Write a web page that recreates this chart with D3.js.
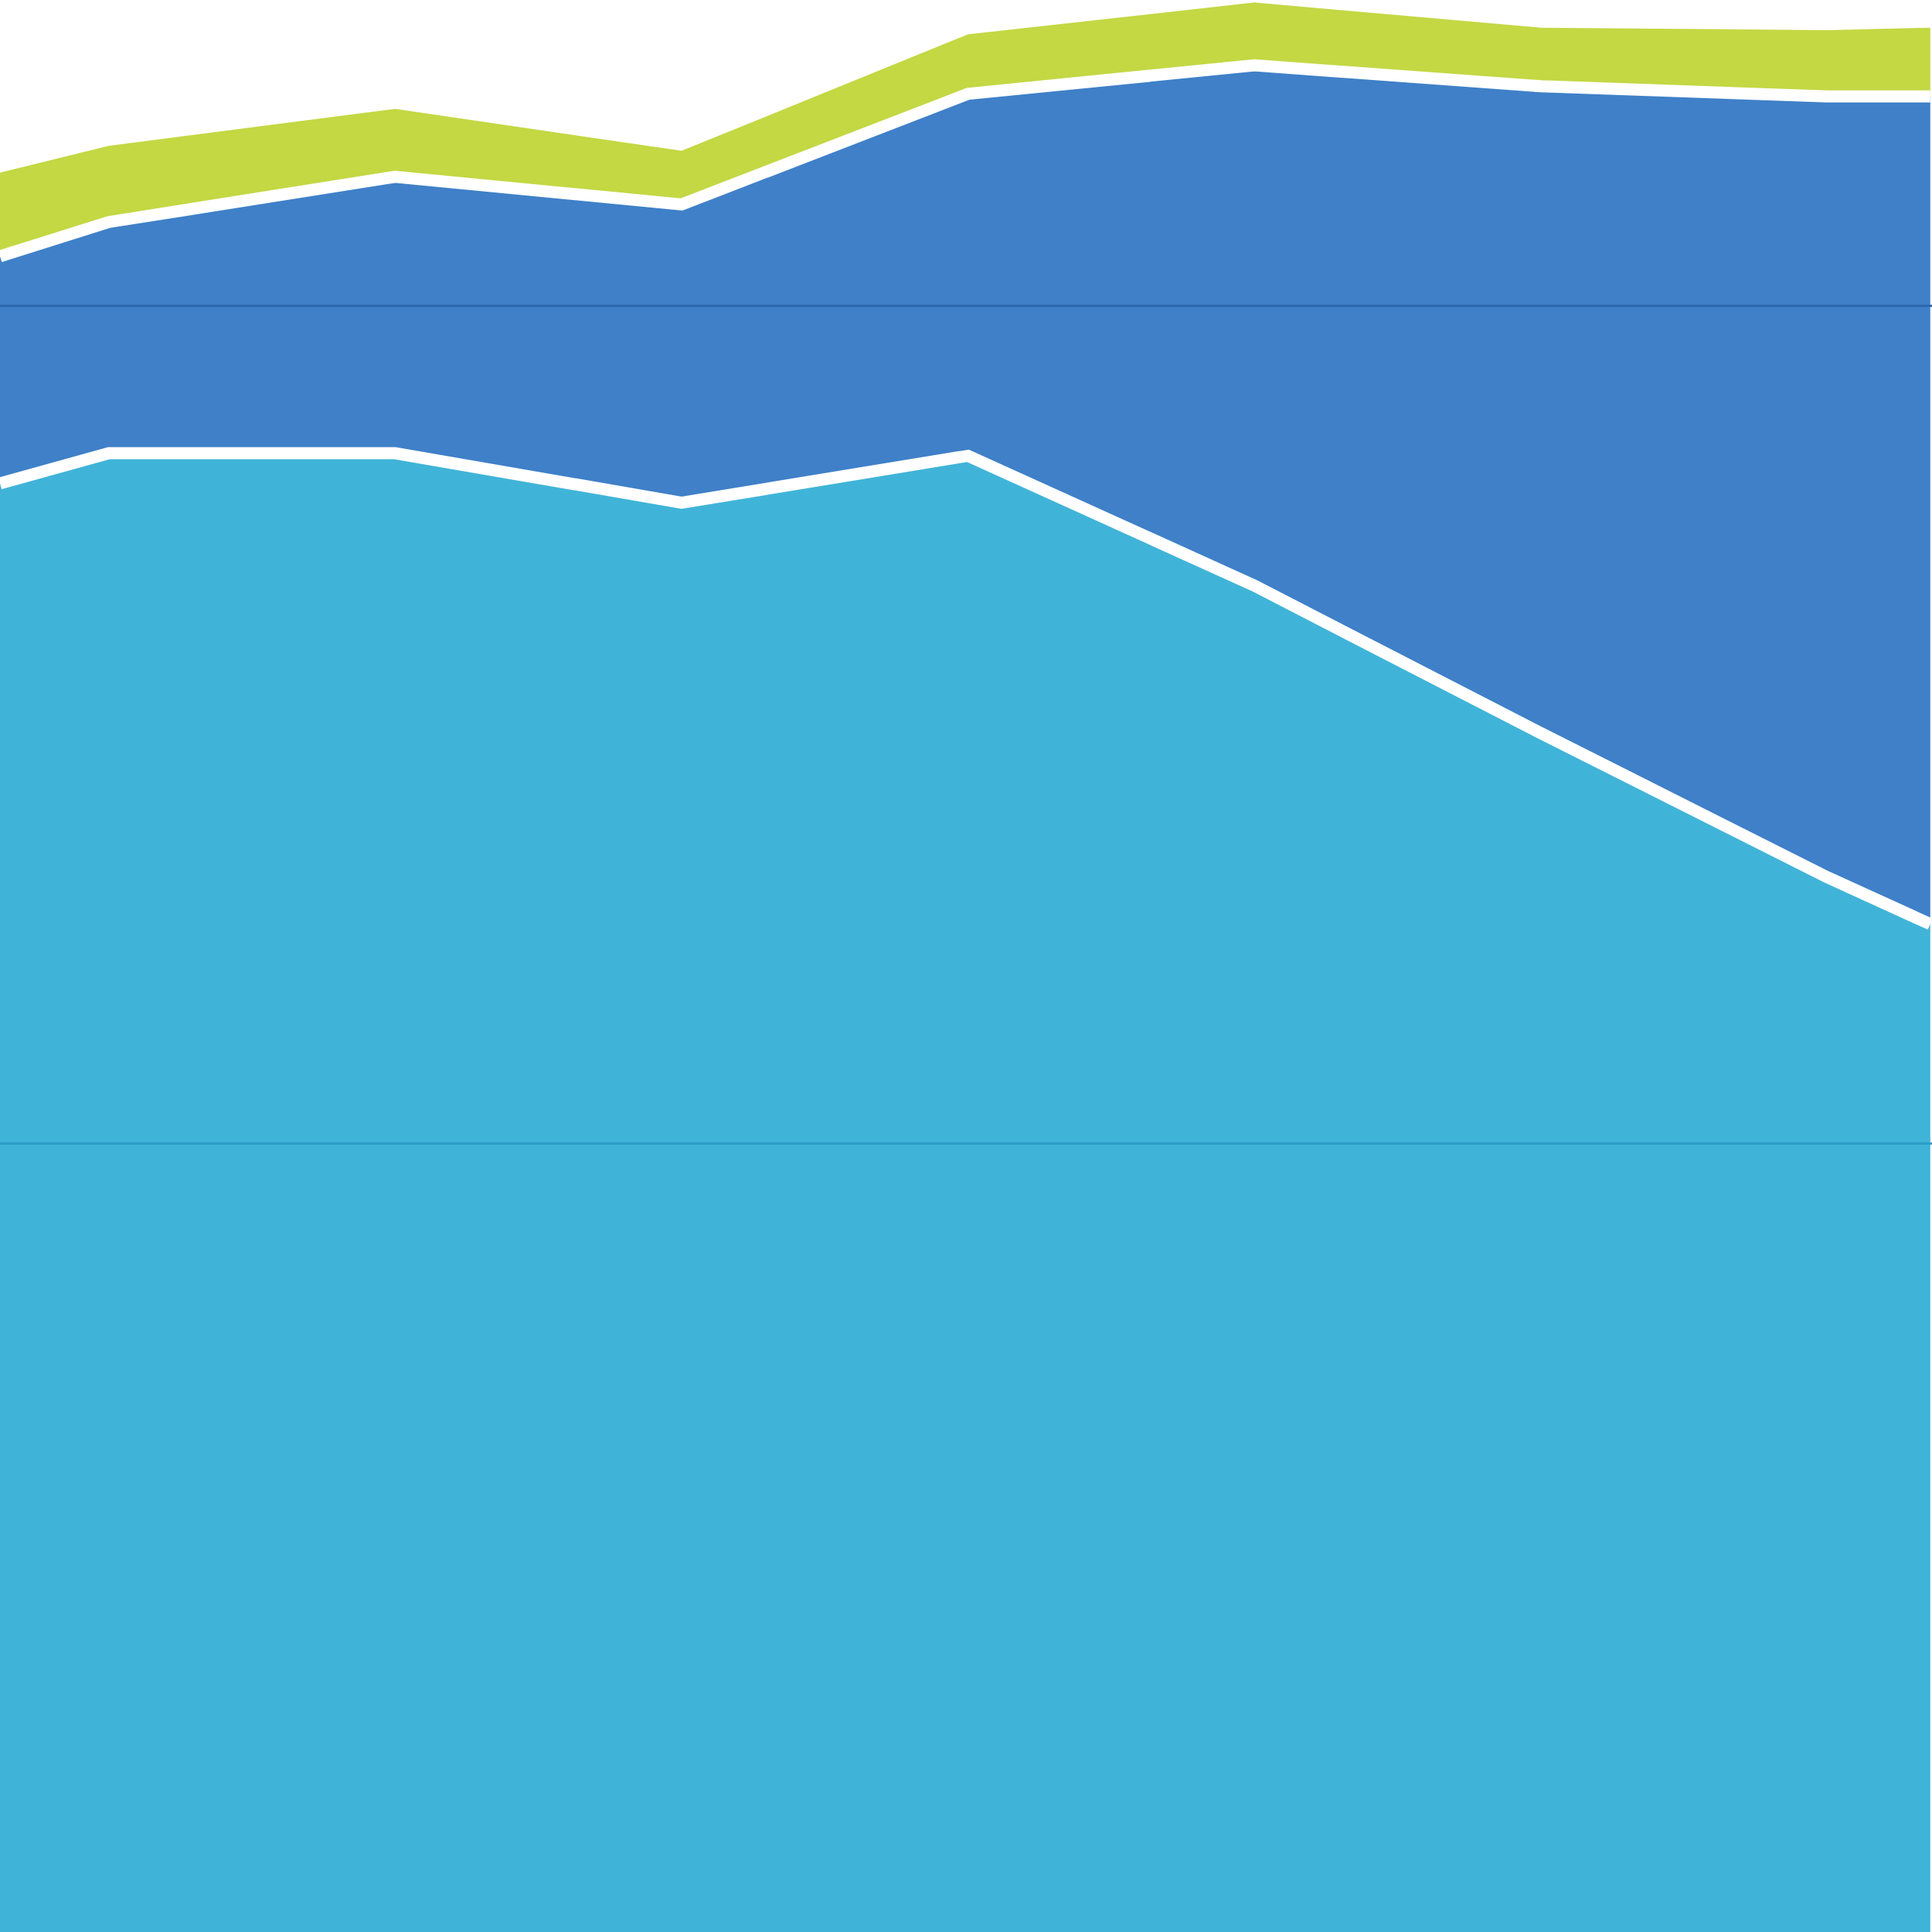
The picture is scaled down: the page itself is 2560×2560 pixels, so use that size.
<!DOCTYPE html>
<html>
<head>
<meta charset="utf-8">
<script src="https://cdn.jsdelivr.net/npm/d3@7"></script>
<style>body{margin:0;background:#fff}</style>
</head>
<body>
<div id="chart"></div>
<script>
// positions along the category axis (the picture is cropped at both ends)
const periods = [-0.38, 0, 1, 2, 3, 4, 5, 6, 6.36];
const seriesNames = ['base', 'middle', 'top'];
const baseValues = [1788, 1824, 1824, 1765, 1821, 1666, 1490, 1318, 1262];
const middleValues = [271, 276, 330, 356, 432, 621, 772, 932, 988];
const topValues = [100, 91, 81, 64, 71, 75, 70, 79, 82];
const gridTicks = [1000, 2000];

const width = 2560;
const height = 2560;
const colours = ['#40b4d8', '#3f80c8', '#c3d843'];
const gridColours = ['#2c9cc6', '#2a67ad'];

const table = periods.map((p, i) => ({
     period: p, base: baseValues[i], middle: middleValues[i], top: topValues[i]
}));

const x = d3.scaleLinear().domain([-0.38, 6.366]).range([0, width]);
const y = d3.scaleLinear().domain([59, 2365]).range([height, 0]);

const stacked = d3.stack().keys(seriesNames)(table);

const svg = d3.select('#chart').append('svg')
     .attr('width', width).attr('height', height);

const area = d3.area()
     .x(d => x(d.data.period))
     .y0(d => y(d[0]))
     .y1(d => y(d[1]));

svg.selectAll('path.area')
     .data(stacked)
     .enter().append('path')
          .attr('class', 'area')
          .attr('d', area)
          .attr('fill', (d, i) => colours[i]);

// horizontal grid lines
svg.selectAll('line.grid')
     .data(gridTicks)
     .enter().append('line')
          .attr('x1', 0).attr('x2', width)
          .attr('y1', d => y(d)).attr('y2', d => y(d))
          .attr('stroke', (d, i) => gridColours[i])
          .attr('stroke-width', 3);

// white separators on the top edge of the lower two layers
const edge = d3.line()
     .x(d => x(d.data.period))
     .y(d => y(d[1]));

svg.selectAll('path.edge')
     .data(stacked.slice(0, 2))
     .enter().append('path')
          .attr('class', 'edge')
          .attr('d', edge)
          .attr('fill', 'none')
          .attr('stroke', '#fff')
          .attr('stroke-width', 16);
</script>
</body>
</html>
